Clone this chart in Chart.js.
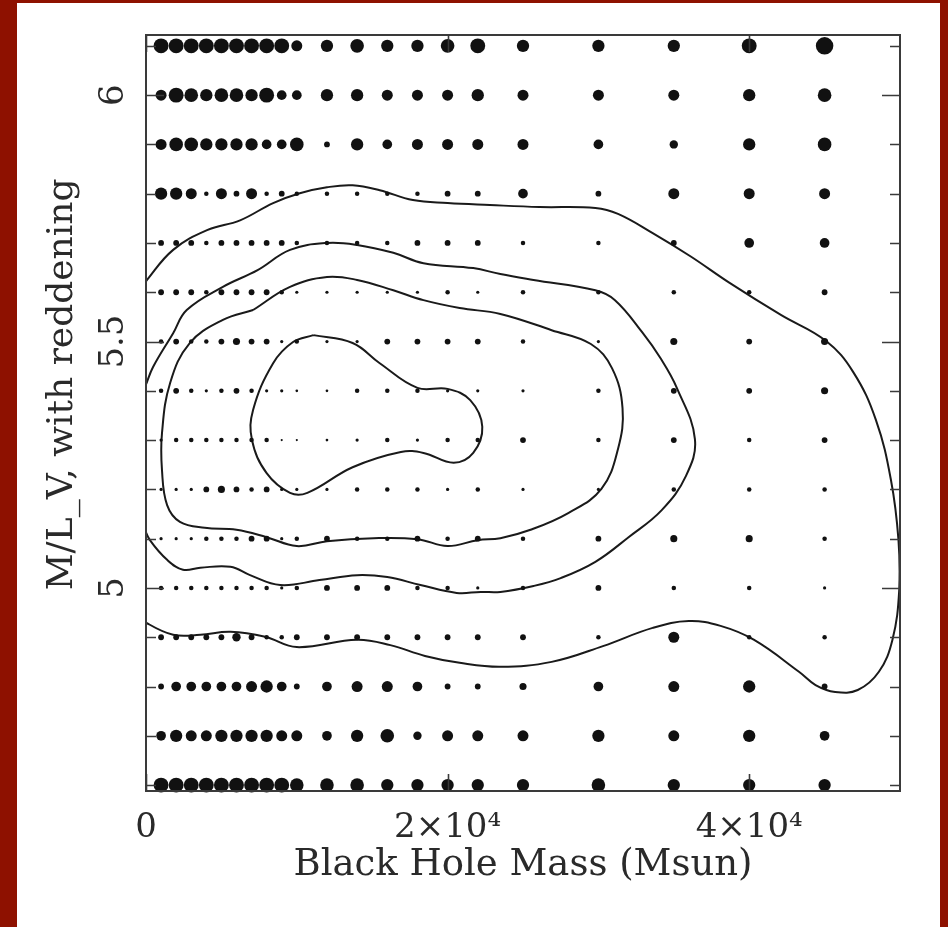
<!DOCTYPE html>
<html>
<head>
<meta charset="utf-8">
<script src="https://cdn.jsdelivr.net/npm/chart.js@4/dist/chart.umd.min.js"></script>
<style>
  html, body { margin: 0; padding: 0; background: #fff; }
  #frame {
    position: absolute; left: 0; top: 0; width: 948px; height: 927px; box-sizing: border-box;
    border-left: 17px solid #8e1100; border-top: 3px solid #8e1100; border-right: 8px solid #8e1100;
  }
  #wrap { position: absolute; left: 0; top: 0; width: 948px; height: 927px; }
</style>
</head>
<body>
<div id="frame"></div>
<div id="wrap"><canvas id="chart"></canvas></div>
<script>
// grid of models: black hole mass (Msun) x M/L_V
const massGrid = [1000, 2000, 3000, 4000, 5000, 6000, 7000, 8000, 9000, 10000,
                  12000, 14000, 16000, 18000, 20000, 22000, 25000, 30000, 35000, 40000, 45000];
const mlGrid = [6.1, 6.0, 5.9, 5.8, 5.7, 5.6, 5.5, 5.4, 5.3, 5.2, 5.1, 5.0, 4.9, 4.8, 4.7, 4.6];

// marker weight per grid point (one row per M/L value, columns follow massGrid)
const dotWeight = [
  [11, 11, 11, 11, 11, 11, 11, 11, 11, 8, 9, 10, 9, 9, 10, 11, 9, 9, 9, 11, 13],   // 6.1
  [8, 11, 10, 9, 10, 10, 9, 11, 7, 7, 9, 9, 8, 8, 8, 9, 8, 8, 8, 9, 10],           // 6.0
  [8, 10, 10, 9, 9, 9, 9, 7, 7, 10, 4, 9, 7, 8, 8, 8, 8, 7, 6, 9, 10],             // 5.9
  [9, 9, 8, 3, 8, 4, 8, 3, 4, 3, 3, 3, 3, 3, 4, 4, 7, 4, 8, 8, 8],                 // 5.8
  [4, 4, 4, 3, 4, 4, 4, 4, 4, 3, 3, 3, 3, 4, 4, 4, 3, 3, 4, 7, 7],                 // 5.7
  [4, 4, 4, 3, 4, 4, 4, 4, 3, 2, 2, 2, 2, 2, 3, 2, 3, 3, 3, 3, 4],                 // 5.6
  [3, 4, 3, 3, 4, 5, 4, 4, 2, 3, 2, 2, 4, 4, 4, 4, 3, 2, 5, 4, 5],                 // 5.5
  [3, 4, 3, 2, 3, 4, 3, 2, 2, 1.6, 1.6, 3, 3, 3, 2, 2, 2, 3, 4, 4, 5],             // 5.4
  [2, 3, 3, 3, 3, 3, 3, 3, 1.2, 1.2, 1.6, 2, 3, 2, 3, 3, 4, 3, 4, 3, 4],           // 5.3
  [2, 2, 2, 4, 5, 4, 3, 4, 2, 2, 2, 3, 3, 3, 2, 3, 2, 2, 3, 3, 3],                 // 5.2
  [2, 2, 2, 3, 3, 3, 4, 4, 2, 3, 4, 3, 3, 4, 3, 4, 3, 4, 5, 5, 3],                 // 5.1
  [3, 3, 3, 3, 3, 3, 3, 3, 2, 3, 4, 4, 4, 3, 3, 2, 3, 4, 3, 3, 2],                 // 5.0
  [4, 4, 4, 4, 4, 6, 4, 3, 3, 4, 4, 4, 4, 4, 4, 4, 4, 3, 8, 3, 3],                 // 4.9
  [4, 7, 7, 7, 7, 7, 8, 9, 7, 4, 7, 8, 8, 7, 4, 4, 5, 7, 8, 9, 4],                 // 4.8
  [7, 9, 8, 8, 9, 9, 9, 9, 8, 8, 7, 9, 10, 6, 8, 8, 8, 9, 8, 9, 7],                // 4.7
  [11, 11, 11, 11, 11, 11, 11, 11, 11, 10, 10, 10, 9, 9, 9, 9, 9, 10, 9, 9, 9]     // 4.6
];

// confidence contours (mass, M/L)
const contour1Mass = [11100, 13700, 15500, 18000, 20000, 21500, 22300, 21700, 20400, 18400,
                      16900, 13700, 10700, 9550, 8000, 7030, 7100, 8430, 9750, 11100];
const contour1ML = [5.513, 5.497, 5.456, 5.406, 5.404, 5.381, 5.327, 5.274, 5.254, 5.274,
                    5.276, 5.245, 5.193, 5.193, 5.233, 5.300, 5.361, 5.456, 5.499, 5.513];

const contour2Mass = [7100, 9550, 12000, 14000, 16400, 18400, 20800, 23500, 26900, 29500,
                      30900, 31600, 31300, 30200, 28000, 25500, 23500, 22000, 20000, 18000,
                      15100, 12000, 10000, 8000, 6000, 3900, 2250, 1400, 1060, 1060,
                      1600, 2900, 5100, 7100];
const contour2ML = [5.564, 5.611, 5.631, 5.625, 5.604, 5.584, 5.568, 5.556, 5.523, 5.495,
                    5.446, 5.365, 5.282, 5.201, 5.152, 5.118, 5.101, 5.097, 5.085, 5.099,
                    5.101, 5.095, 5.085, 5.103, 5.118, 5.122, 5.134, 5.168, 5.239, 5.314,
                    5.416, 5.497, 5.544, 5.564];

const contour3Mass = [-400, -70, 460, 1800, 2700, 5100, 7400, 9550, 12000, 14000,
                      16400, 18400, 21700, 23500, 25700, 29800, 31100, 32900, 34100, 35200,
                      36400, 35800, 34200, 32000, 29800, 27500, 25700, 23500, 22200, 20600,
                      18200, 16000, 14000, 11500, 8900, 6900, 5600, 3600, 2450, 1400,
                      260, -130, -530];
const contour3ML = [5.391, 5.408, 5.448, 5.517, 5.564, 5.611, 5.645, 5.686, 5.700, 5.696,
                    5.680, 5.659, 5.649, 5.637, 5.625, 5.604, 5.584, 5.519, 5.467, 5.406,
                    5.302, 5.227, 5.158, 5.103, 5.053, 5.020, 5.004, 4.992, 4.992, 4.990,
                    5.006, 5.022, 5.026, 5.016, 5.006, 5.026, 5.043, 5.041, 5.037, 5.057,
                    5.097, 5.122, 5.148];

const contour4Mass = [-400, 70, 1800, 4050, 6240, 8430, 10200, 12000, 13700, 15500,
                      17700, 20000, 22800, 26100, 29800, 31300, 33600, 36100, 38700, 42100,
                      45100, 46900, 48400, 49400, 49900, 49950, 49500, 48600, 47200, 45700,
                      44400, 43300, 40300, 38100, 36000, 33600, 30300, 26900, 23500, 20800,
                      18500, 16200, 14000, 10000, 7900, 5600, 3600, 1800, -70, -530];
const contour4ML = [5.604, 5.625, 5.686, 5.726, 5.746, 5.781, 5.801, 5.813, 5.817, 5.807,
                    5.787, 5.781, 5.777, 5.773, 5.771, 5.759, 5.720, 5.673, 5.619, 5.554,
                    5.501, 5.438, 5.341, 5.219, 5.097, 4.996, 4.895, 4.830, 4.793, 4.789,
                    4.803, 4.830, 4.895, 4.923, 4.933, 4.919, 4.882, 4.850, 4.840, 4.848,
                    4.862, 4.884, 4.895, 4.880, 4.901, 4.911, 4.905, 4.905, 4.931, 4.945];

// axis ticks
const xLabelTicks = [0, 20000, 40000];
const xLabelText = ['0', '2×10⁴', '4×10⁴'];
const yLabelTicks = [5, 5.5, 6];
const yMinorTicks = [4.6, 4.7, 4.8, 4.9, 5.0, 5.1, 5.2, 5.3, 5.4, 5.5, 5.6, 5.7, 5.8, 5.9, 6.0, 6.1];

const ink = '#2a2a2a';
const fontFamily = '"DejaVu Serif", serif';

const dots = [];
const dotRadius = [];
mlGrid.forEach((ml, i) => {
    massGrid.forEach((m, j) => {
        dots.push({ x: m, y: ml });
        dotRadius.push(dotWeight[i][j] * 0.65 + 0.3);
    });
});

function contourDataset(masses, mls) {
    return {
        data: masses.map((m, i) => ({ x: m, y: mls[i] })),
        showLine: true,
        borderColor: '#1a1a1a',
        borderWidth: 2,
        pointRadius: 0,
        tension: 0.4,
        fill: false,
        clip: 0
    };
}

// box round the plot with inward ticks, as in the original figure
const frameTicks = {
    id: 'frameTicks',
    afterDatasetsDraw(chart) {
        const { ctx, chartArea: a, scales: { x, y } } = chart;
        ctx.save();
        ctx.strokeStyle = '#3a3a3a';
        ctx.lineWidth = 2;
        ctx.strokeRect(a.left, a.top, a.right - a.left, a.bottom - a.top);
        ctx.beginPath();
        yMinorTicks.forEach(v => {
            const py = Math.round(y.getPixelForValue(v)) + 0.5;
            const len = yLabelTicks.includes(v) ? 18 : 10;
            ctx.moveTo(a.left, py);
            ctx.lineTo(a.left + len, py);
            ctx.moveTo(a.right, py);
            ctx.lineTo(a.right - len, py);
        });
        xLabelTicks.forEach(v => {
            const px = Math.round(x.getPixelForValue(v)) + 0.5;
            ctx.moveTo(px, a.bottom);
            ctx.lineTo(px, a.bottom - 17);
            ctx.moveTo(px, a.top);
            ctx.lineTo(px, a.top + 17);
        });
        ctx.lineWidth = 1.6;
        ctx.stroke();
        ctx.restore();
    }
};

new Chart(document.getElementById('chart'), {
    type: 'scatter',
    data: {
        datasets: [
            {
                data: dots,
                pointRadius: dotRadius,
                pointHoverRadius: dotRadius,
                backgroundColor: '#111',
                borderWidth: 0,
                clip: 10
            },
            contourDataset(contour1Mass, contour1ML),
            contourDataset(contour2Mass, contour2ML),
            contourDataset(contour3Mass, contour3ML),
            contourDataset(contour4Mass, contour4ML)
        ]
    },
    options: {
        responsive: true,
        maintainAspectRatio: false,
        animation: false,
        layout: { padding: { left: 17, top: 35, right: 48, bottom: 0 } },
        plugins: {
            legend: { display: false },
            tooltip: { enabled: false }
        },
        scales: {
            x: {
                type: 'linear',
                min: 0,
                max: 50000,
                grid: { display: false, drawTicks: false },
                border: { display: false },
                afterBuildTicks: scale => {
                    scale.ticks = xLabelTicks.map(v => ({ value: v }));
                },
                afterFit: scale => { scale.height = 136; },
                ticks: {
                    padding: 17,
                    maxRotation: 0,
                    autoSkip: false,
                    color: ink,
                    font: { family: fontFamily, size: 34 },
                    callback: v => xLabelText[xLabelTicks.indexOf(v)]
                },
                title: {
                    display: true,
                    text: 'Black Hole Mass (Msun)',
                    color: ink,
                    font: { family: fontFamily, size: 37 },
                    padding: { top: 0, bottom: 39 }
                }
            },
            y: {
                type: 'linear',
                min: 4.588,
                max: 6.122,
                grid: { display: false, drawTicks: false },
                border: { display: false },
                afterBuildTicks: scale => {
                    scale.ticks = yLabelTicks.map(v => ({ value: v }));
                },
                afterFit: scale => { scale.width = 129; },
                ticks: {
                    padding: 5,
                    minRotation: 90,
                    maxRotation: 90,
                    crossAlign: 'center',
                    autoSkip: false,
                    color: ink,
                    font: { family: fontFamily, size: 34 },
                    callback: v => String(v)
                },
                title: {
                    display: true,
                    text: '     M/L_V, with reddening',
                    color: ink,
                    font: { family: fontFamily, size: 36 },
                    padding: { top: 24, bottom: 0 }
                }
            }
        }
    },
    plugins: [frameTicks]
});
</script>
</body>
</html>
